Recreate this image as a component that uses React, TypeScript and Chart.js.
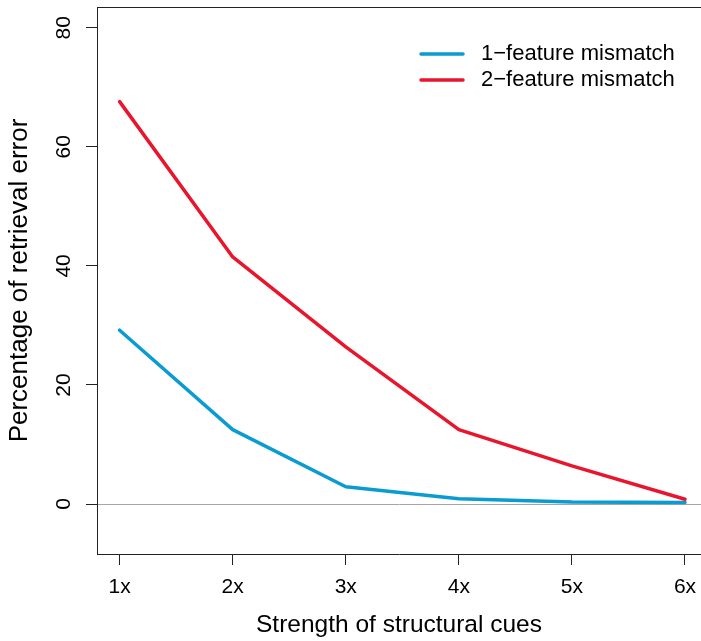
import { useEffect, useRef } from "react";
import { Chart, registerables } from "chart.js";

Chart.register(...registerables);

// Cue strength levels on the x axis and their tick labels
const cueStrength = [1, 2, 3, 4, 5, 6];
const cueLabels = ["1x", "2x", "3x", "4x", "5x", "6x"];

// Percentage of retrieval error per condition
const oneFeatureMismatch = [29.2, 12.5, 2.9, 0.9, 0.35, 0.25];
const twoFeatureMismatch = [67.6, 41.5, 26.4, 12.5, 6.4, 0.8];

const yTicks = [0, 20, 40, 60, 80];
const seriesNames = ["1\u2212feature mismatch", "2\u2212feature mismatch"];
const seriesColors = ["#0a9bd0", "#e8152c"];

const FONT = "'Liberation Sans', Arial, Helvetica, sans-serif";

// Frame line on top of the plot region plus the in-plot legend
const framePlugin = {
  id: "frameAndLegend",
  afterDraw(chart: any) {
    const { ctx, chartArea } = chart;
    ctx.save();
    ctx.strokeStyle = "#222";
    ctx.lineWidth = 1;
    ctx.beginPath();
    ctx.moveTo(chartArea.left, Math.round(chartArea.top) + 0.5);
    ctx.lineTo(chart.width, Math.round(chartArea.top) + 0.5);
    ctx.stroke();

    const x0 = 421;
    const x1 = 463;
    const rows = [54, 80];
    chart.data.datasets.forEach((ds: any, i: number) => {
      const y = rows[i];
      ctx.strokeStyle = ds.borderColor;
      ctx.lineWidth = 3.5;
      ctx.lineCap = "round";
      ctx.beginPath();
      ctx.moveTo(x0, y);
      ctx.lineTo(x1, y);
      ctx.stroke();
      ctx.fillStyle = "#000";
      ctx.font = `22px ${FONT}`;
      ctx.textAlign = "left";
      ctx.textBaseline = "middle";
      ctx.fillText(ds.label, 481, y);
    });
    ctx.restore();
  },
};

export default function App() {
  const canvasRef = useRef<HTMLCanvasElement | null>(null);

  useEffect(() => {
    const canvas = canvasRef.current;
    if (!canvas) return;

    const chart = new Chart(canvas, {
      type: "line",
      data: {
        datasets: [
          {
            label: seriesNames[0],
            data: cueStrength.map((x, i) => ({ x, y: oneFeatureMismatch[i] })),
            borderColor: seriesColors[0],
            backgroundColor: seriesColors[0],
            borderWidth: 3.5,
            pointRadius: 0,
            tension: 0,
            fill: false,
            borderCapStyle: "round",
            borderJoinStyle: "round",
            order: 1,
          },
          {
            label: seriesNames[1],
            data: cueStrength.map((x, i) => ({ x, y: twoFeatureMismatch[i] })),
            borderColor: seriesColors[1],
            backgroundColor: seriesColors[1],
            borderWidth: 3.5,
            pointRadius: 0,
            tension: 0,
            fill: false,
            borderCapStyle: "round",
            borderJoinStyle: "round",
            order: 0,
          },
        ],
      },
      options: {
        responsive: false,
        animation: false,
        devicePixelRatio: 1,
        layout: { padding: { left: 0, top: 7, right: 0, bottom: 0 } },
        plugins: {
          legend: { display: false },
          tooltip: { enabled: false },
        },
        scales: {
          x: {
            type: "linear",
            min: 0.8,
            max: 6.1415,
            afterBuildTicks: (scale: any) => {
              scale.ticks = cueStrength.map((v) => ({ value: v }));
            },
            afterFit: (scale: any) => {
              scale.height = 87;
              scale.paddingLeft = 0;
              scale.paddingRight = 0;
            },
            ticks: {
              color: "#000",
              font: { family: FONT, size: 21 },
              padding: 10,
              maxRotation: 0,
              autoSkip: false,
              callback: (v: any) => cueLabels[cueStrength.indexOf(Number(v))] ?? "",
            },
            grid: {
              drawOnChartArea: false,
              drawTicks: true,
              tickLength: 11,
              tickColor: "#222",
              color: "#222",
            },
            border: { display: true, color: "#222", width: 1 },
            title: {
              display: true,
              text: "Strength of structural cues",
              color: "#000",
              font: { family: FONT, size: 24.5 },
              padding: { top: 0, bottom: 1 },
            },
          },
          y: {
            type: "linear",
            min: -8.4,
            max: 83.5,
            afterBuildTicks: (scale: any) => {
              scale.ticks = yTicks.map((v) => ({ value: v }));
            },
            afterFit: (scale: any) => {
              scale.width = 97;
              scale.paddingTop = 0;
              scale.paddingBottom = 0;
            },
            ticks: {
              color: "#000",
              font: { family: FONT, size: 21 },
              minRotation: 90,
              maxRotation: 90,
              crossAlign: "center",
              padding: 10.5,
              autoSkip: false,
            },
            grid: {
              drawOnChartArea: true,
              drawTicks: true,
              tickLength: 11,
              tickColor: "#222",
              color: (ctx: any) =>
                ctx.tick && ctx.tick.value === 0 ? "#a6a6a6" : "rgba(0,0,0,0)",
              lineWidth: 1,
            },
            border: { display: true, color: "#222", width: 1 },
            title: {
              display: true,
              text: "Percentage of retrieval error",
              color: "#000",
              font: { family: FONT, size: 26 },
              padding: { top: 4.4, bottom: 0 },
            },
          },
        },
      },
      plugins: [framePlugin],
    } as any);

    return () => chart.destroy();
  }, []);

  return (
    <div style={{ position: "absolute", left: 0, top: 0, width: 701, height: 641, background: "#fff" }}>
      <canvas ref={canvasRef} width={701} height={641} style={{ display: "block" }} />
    </div>
  );
}
